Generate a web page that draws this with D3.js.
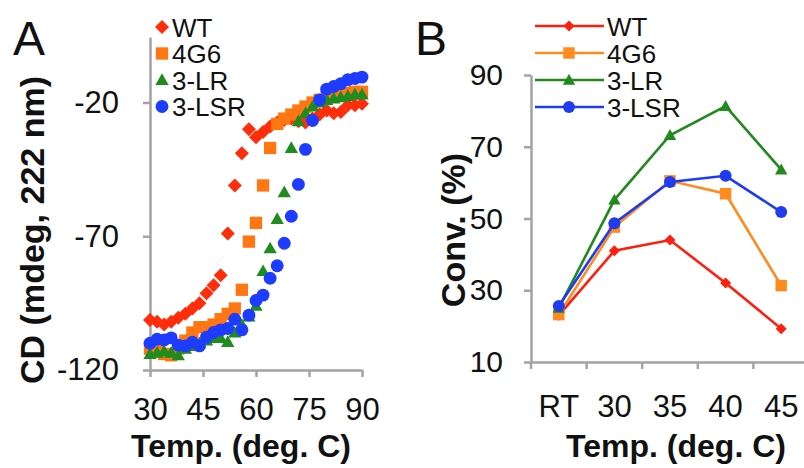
<!DOCTYPE html>
<html><head><meta charset="utf-8">
<script src="https://cdn.jsdelivr.net/npm/d3@7"></script>
<style>
body{margin:0;background:#fff}
svg{display:block}
text{font-family:"Liberation Sans",Arial,Helvetica,sans-serif;fill:#111}
</style>
</head><body>
<svg id="c" width="804" height="468"></svg>
<script>
// ---------- DATA ----------
const seriesNames = ["WT", "4G6", "3-LR", "3-LSR"];
// Panel A: CD (mdeg, 222 nm) vs temperature
const tempsA = [30,32,34,36,38,40,42,44,46,48,50,52,54,56,58,60,62,64,66,68,70,72,74,76,78,80,82,84,86,88,90];
const wtA  = [-101.3,-102,-103,-102,-100.5,-99,-97,-95,-91.3,-88.3,-84.6,-69,-51,-39,-30,-33,-31,-29,-27.5,-26.5,-26,-27,-27.5,-26,-24.5,-23,-24,-23.5,-21,-21,-20.5];
const g6A  = [-112,-113,-114,-114.5,-112,-109,-106,-104,-104,-103,-101,-99,-97,-90,-72,-65,-51,-37,-28,-26,-24.5,-23,-21.5,-20,-19,-18,-17.5,-17,-16.5,-16,-16];
const lrA  = [-114,-113.5,-113,-113.5,-114.5,-112,-111,-110,-109,-108,-108,-109.5,-106,-103,-100,-96,-83,-74.5,-63.5,-53.5,-37,-27,-24,-21.5,-20,-19,-18.5,-18,-17.5,-17,-17];
const lsrA = [-110,-108.5,-108.8,-108,-110.7,-111,-109.6,-111,-107.7,-106,-105,-104.5,-101,-105,-99.5,-94,-92,-85.7,-81,-72.6,-62.5,-50.6,-37.5,-26.7,-19,-15,-14,-13,-11.5,-11,-10.5];
const ticksAX = [30,45,60,75,90];
const ticksAY = [-120,-70,-20];
// Panel B: conversion (%) vs temperature
const tempsB = ["RT","30","35","40","45"];
const wtB  = [23, 41, 44, 32, 19.3];
const g6B  = [23.2, 47.6, 60.5, 56.9, 31.3];
const lrB  = [25, 55.2, 73.2, 81.3, 63.6];
const lsrB = [25.6, 48.7, 60.2, 61.9, 51.8];
const ticksBY = [10,30,50,70,90];

// ---------- STYLE ----------
const colA = ["#ff2d0a","#ff7612","#1e8c1e","#1e3cff"];
const colB = ["#ff1f0f","#ff8a1e","#22891e","#1f3cf0"];
const shapes = ["diamond","square","triangle","circle"];
const axisCol = "#a3a3a3";

const svg = d3.select("#c");

function shapePath(type, r){
  if(type==="diamond") return `M0,${-r}L${r},0L0,${r}L${-r},0Z`;
  if(type==="square") return `M${-r*0.88},${-r*0.88}H${r*0.88}V${r*0.88}H${-r*0.88}Z`;
  if(type==="triangle") return `M0,${-r*0.95}L${r*0.95},${r*0.72}L${-r*0.95},${r*0.72}Z`;
  const p = d3.path(); p.arc(0,0,r*0.92,0,2*Math.PI); return p.toString();
}

function styleAxis(g, fs){
  g.select(".domain").attr("stroke",axisCol).attr("stroke-width",2.5);
  g.selectAll(".tick line").attr("stroke",axisCol).attr("stroke-width",2.5);
  g.selectAll(".tick text").attr("font-size",fs||31).attr("fill","#111")
    .attr("font-family",'"Liberation Sans",Arial,sans-serif');
}

// ---------- PANEL A ----------
const xA = d3.scaleLinear().domain([30,90]).range([150,362]);
const yA = d3.scaleLinear().domain([-120,4.5]).range([370,37]);

const gAy = svg.append("g").attr("transform",`translate(${xA(30)},0)`)
  .call(d3.axisLeft(yA).tickValues(ticksAY).tickFormat(d=>String(d)).tickSize(7).tickSizeOuter(0).tickPadding(24));
styleAxis(gAy);
const gAx = svg.append("g").attr("transform",`translate(0,${yA(-120)})`)
  .call(d3.axisBottom(xA).tickValues(ticksAX).tickSize(7).tickSizeOuter(0).tickPadding(21));
styleAxis(gAx);

const dataA = [wtA, g6A, lrA, lsrA];
dataA.forEach((vals,i)=>{
  svg.append("g").selectAll("path").data(vals).join("path")
    .attr("transform",(d,j)=>`translate(${xA(tempsA[j])},${yA(d)})`)
    .attr("d",shapePath(shapes[i], 7))
    .attr("fill",colA[i]);
});

// legend A
seriesNames.forEach((n,i)=>{
  const cy = 27 + i*26.5;
  svg.append("path").attr("transform",`translate(162,${cy})`).attr("d",shapePath(shapes[i],7)).attr("fill",colA[i]);
  svg.append("text").attr("x",172).attr("y",cy+9.5).attr("font-size",26).text(n);
});

svg.append("text").attr("x",13).attr("y",55).attr("font-size",48).text("A");
svg.append("text").attr("transform","translate(44,230) rotate(-90)").attr("text-anchor","middle")
  .attr("font-size",34).attr("font-weight","bold").text("CD (mdeg, 222 nm)");
svg.append("text").attr("x",241).attr("y",457).attr("text-anchor","middle")
  .attr("font-size",32).attr("font-weight","bold").text("Temp. (deg. C)");

// ---------- PANEL B ----------
const xB = d3.scaleBand().domain(tempsB).range([531,809]);
const yB = d3.scaleLinear().domain([10,90]).range([362,75]);

const gBy = svg.append("g").attr("transform",`translate(531,0)`)
  .call(d3.axisLeft(yB).tickValues(ticksBY).tickSize(7).tickSizeOuter(0).tickPadding(21));
styleAxis(gBy, 30);
const gBx = svg.append("g").attr("transform",`translate(0,${yB(10)})`)
  .call(d3.axisBottom(xB).tickSize(0).tickSizeOuter(0).tickPadding(33));
styleAxis(gBx);
gBx.selectAll(".bnd").data(tempsB).join("line").attr("class","bnd")
  .attr("x1",d=>xB(d)).attr("x2",d=>xB(d)).attr("y1",0).attr("y2",7)
  .attr("stroke",axisCol).attr("stroke-width",2.5);

const dataB = [wtB, g6B, lrB, lsrB];
const line = d3.line().x((d,j)=>xB(tempsB[j])+xB.bandwidth()/2).y(d=>yB(d));
dataB.forEach((vals,i)=>{
  svg.append("path").datum(vals).attr("d",line).attr("fill","none")
    .attr("stroke",colB[i]).attr("stroke-width",2.6);
  svg.append("g").selectAll("path").data(vals).join("path")
    .attr("transform",(d,j)=>`translate(${xB(tempsB[j])+xB.bandwidth()/2},${yB(d)})`)
    .attr("d",shapePath(shapes[i], i===0?5.5:6.5))
    .attr("fill",colB[i]);
});

// legend B
seriesNames.forEach((n,i)=>{
  const cy = 26 + i*27;
  svg.append("line").attr("x1",535).attr("x2",604).attr("y1",cy).attr("y2",cy)
    .attr("stroke",colB[i]).attr("stroke-width",2.6);
  svg.append("path").attr("transform",`translate(569,${cy})`).attr("d",shapePath(shapes[i], i===0?5.5:6.5)).attr("fill",colB[i]);
  svg.append("text").attr("x",607).attr("y",cy+9.5).attr("font-size",26).text(n);
});

svg.append("text").attr("x",415).attr("y",55).attr("font-size",48).text("B");
svg.append("text").attr("transform","translate(465,230) rotate(-90)").attr("text-anchor","middle")
  .attr("font-size",34).attr("font-weight","bold").text("Conv. (%)");
svg.append("text").attr("x",676).attr("y",457).attr("text-anchor","middle")
  .attr("font-size",32).attr("font-weight","bold").text("Temp. (deg. C)");
</script>
</body></html>
